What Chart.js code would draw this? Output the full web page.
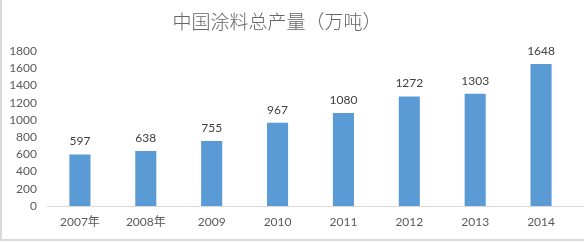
<!DOCTYPE html>
<html>
<head>
<meta charset="utf-8">
<script src="https://cdn.jsdelivr.net/npm/chart.js@4.4.0/dist/chart.umd.min.js"></script>
<style>
    body { margin: 0; overflow: hidden; background: #fff; }
    #wrap { position: relative; width: 584px; height: 242px; overflow: hidden; }
    #chart { position: absolute; left: 0; top: 0; }
    .edge { position: absolute; background: #d9d9d9; }
</style>
</head>
<body>
<div id="wrap">
    <canvas id="chart" width="600" height="242"></canvas>
    <div class="edge" style="left:0;top:0;width:2px;height:241px"></div>
    <div class="edge" style="left:0;top:239px;width:584px;height:2px"></div>
</div>
<script>
const chartTitle = '中国涂料总产量（万吨）';
const years = ['2007年', '2008年', '2009', '2010', '2011', '2012', '2013', '2014'];
const output = [597, 638, 755, 967, 1080, 1272, 1303, 1648];
const yTicks = [0, 200, 400, 600, 800, 1000, 1200, 1400, 1600, 1800];

const fontFamily = "Lato, 'Noto Sans CJK SC', sans-serif";

// title, value labels and the bottom axis line
const extras = {
    id: 'extras',
    afterDraw(chart) {
        const ctx = chart.ctx;
        const y0 = chart.scales.y.getPixelForValue(0);
        ctx.save();
        ctx.strokeStyle = '#d9d9d9';
        ctx.lineWidth = 1;
        ctx.beginPath();
        ctx.moveTo(chart.chartArea.left, y0 + 0.5);
        ctx.lineTo(chart.width, y0 + 0.5);
        ctx.stroke();

        ctx.fillStyle = '#404040';
        ctx.font = '12px ' + fontFamily;
        ctx.textAlign = 'center';
        ctx.textBaseline = 'middle';
        chart.getDatasetMeta(0).data.forEach((bar, i) => {
            ctx.fillText(output[i], bar.x, bar.y - 13);
        });

        ctx.fillStyle = '#666666';
        ctx.font = "300 19px 'Noto Sans CJK SC', sans-serif";
        ctx.fillText(chartTitle, 277, 22);
        ctx.restore();
    }
};

const ctx = document.getElementById('chart').getContext('2d');
const chart = new Chart(ctx, {
    type: 'bar',
    data: {
        labels: years,
        datasets: [{
            data: output,
            backgroundColor: '#5b9bd5',
            barPercentage: 0.32,
            categoryPercentage: 1
        }]
    },
    options: {
        responsive: false,
        animation: false,
        layout: { padding: { top: 51, right: 26, bottom: 13, left: 0 } },
        plugins: {
            legend: { display: false },
            tooltip: { enabled: false }
        },
        scales: {
            x: {
                afterFit: s => { s.height = 23; },
                grid: { display: false, drawTicks: false },
                border: { display: false },
                ticks: { color: '#595959', font: { size: 12, family: fontFamily }, padding: 9, maxRotation: 0 }
            },
            y: {
                min: 0,
                max: 1800,
                afterBuildTicks: s => { s.ticks = yTicks.map(v => ({ value: v })); },
                afterFit: s => { s.width = 47; },
                grid: { display: false, drawTicks: false },
                border: { display: false },
                ticks: {
                    color: '#595959',
                    font: { size: 12, family: fontFamily },
                    padding: 10,
                    autoSkip: false,
                    callback: v => String(v)
                }
            }
        }
    },
    plugins: [extras]
});
</script>
</body>
</html>
